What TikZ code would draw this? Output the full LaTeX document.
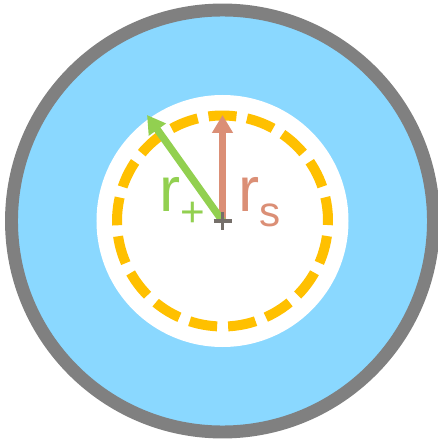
\documentclass[tikz,border=0pt]{standalone}
\usepackage{fontspec}
\setmainfont{Liberation Sans}
\usetikzlibrary{arrows.meta}
\definecolor{Rim}{HTML}{808080}
\definecolor{Sky}{HTML}{8AD8FF}
\definecolor{Ring}{HTML}{FFC000}
\definecolor{Radius}{HTML}{DB8F76}
\definecolor{Outer}{HTML}{92D050}
\definecolor{Mark}{HTML}{756F6A}

\begin{document}
\begin{tikzpicture}[x=0.025cm,y=0.025cm,
  arm/.style={line width=5.2pt,-{Triangle[length=12.8pt,width=14.2pt]}},
  lbl/.style={anchor=base west,inner sep=0pt,font=\fontsize{45}{54}\selectfont}]
\useasboundingbox (-222.5,-219) rectangle (214.5,221);
\coordinate (c) at (0,0);
% disc and ring
\fill[Sky,draw=Rim,line width=9.2pt] (c) circle (211);
\fill[white] (c) circle (126);
\draw[Ring,line width=7.1pt,dash pattern=on 19.9pt off 7.84pt] (c) ++(82.4:105.5) arc[start angle=82.4,end angle=442.4,radius=105.5];
% radii
\coordinate (stip) at (0,106);
\coordinate (ptip) at (-75.5,106);
\draw[arm,Radius] (c) -- (stip);
\draw[arm,Outer] (c) -- (ptip);
\node[lbl,text=Outer] (rplus) at (-63.5,9) {r\raisebox{-10pt}{\fontsize{30}{36}\selectfont +}};
\node[lbl,text=Radius] (rs) at (15.5,9) {r\raisebox{-10pt}{\fontsize{30}{36}\selectfont s}};
% centre mark
\draw[Mark,line width=2.8pt] (c) ++(-9,0) -- ++(18,0) (c) ++(0,-9) -- ++(0,18);
\end{tikzpicture}
\end{document}
